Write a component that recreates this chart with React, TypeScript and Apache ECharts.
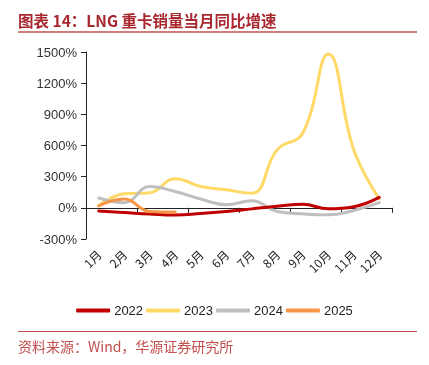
import React, { useEffect, useRef } from "react";
import * as echarts from "echarts";

const months = ["1月", "2月", "3月", "4月", "5月", "6月", "7月", "8月", "9月", "10月", "11月", "12月"];
const y2022 = [-30, -45, -60, -70, -55, -35, -10, 15, 35, -10, 10, 100];
const y2023 = [20, 135, 145, 280, 205, 173, 140, 560, 720, 1480, 560, 85];
const y2024 = [95, 50, 205, 157, 85, 30, 67, -35, -58, -67, -25, 50];
const y2025 = [20, 85, -35, -40];
const yTicks = { min: -300, max: 1500, interval: 300 };

const FONT_CJK = "'Noto Sans CJK SC', 'Liberation Sans', sans-serif";
const FONT_LAT = "'Liberation Sans', Arial, sans-serif";

export default function App() {
  const ref = useRef<HTMLDivElement>(null);
  useEffect(() => {
    if (!ref.current) return;
    const chart = echarts.init(ref.current, undefined, { renderer: "svg" });
    const mk = (name: string, data: number[], color: string, z: number) => ({
      name,
      type: "line",
      data,
      smooth: 0.45,
      showSymbol: false,
      symbol: "none",
      xAxisIndex: 0,
      z,
      lineStyle: { color, width: 3, cap: "round" },
      itemStyle: { color },
    });
    chart.setOption({
      animation: false,
      grid: { left: 86, right: 37, top: 52, bottom: 126 },
      legend: {
        data: ["2022", "2023", "2024", "2025"],
        left: "center",
        top: 299,
        icon: "roundRect",
        itemWidth: 34,
        itemHeight: 4,
        itemGap: 3,
        textStyle: { fontFamily: FONT_LAT, fontSize: 13, color: "#222", padding: [0, 0, 0, -1] },
      },
      xAxis: [
        {
          type: "category",
          data: months,
          boundaryGap: true,
          axisLine: { onZero: true, lineStyle: { color: "#222", width: 1 } },
          axisTick: { show: true, length: 5, lineStyle: { color: "#222" } },
          axisLabel: { show: false },
          splitLine: { show: false },
        },
        {
          type: "category",
          data: months,
          position: "bottom",
          boundaryGap: true,
          axisLine: { show: false, onZero: false },
          axisTick: { show: false },
          axisLabel: {
            show: true,
            rotate: 45,
            margin: 13,
            fontFamily: FONT_CJK,
            fontSize: 12,
            color: "#222",
          },
          splitLine: { show: false },
        },
      ],
      yAxis: {
        type: "value",
        min: yTicks.min,
        max: yTicks.max,
        interval: yTicks.interval,
        axisLine: { show: true, lineStyle: { color: "#222", width: 1 } },
        axisTick: { show: true, length: 5, lineStyle: { color: "#222" } },
        axisLabel: {
          formatter: (v: number) => `${v}%`,
          margin: 9,
          fontFamily: FONT_LAT,
          fontSize: 13,
          color: "#333",
        },
        splitLine: { show: false },
      },
      series: [
        mk("2022", y2022, "#C00000", 4),
        mk("2023", y2023, "#FFD966", 2),
        mk("2024", y2024, "#BFBFBF", 3),
        mk("2025", y2025, "#F79646", 5),
      ],
      graphic: [
        {
          type: "text",
          left: 18,
          top: 12,
          style: {
            text: "图表 14：LNG 重卡销量当月同比增速",
            fontFamily: FONT_CJK,
            fontSize: 15.5,
            fontWeight: "bold",
            fill: "#A8282F",
          },
        },
        {
          type: "line",
          shape: { x1: 18, y1: 32, x2: 417, y2: 32 },
          style: { stroke: "#C0504D", lineWidth: 1.5 },
        },
        {
          type: "line",
          shape: { x1: 18, y1: 331.5, x2: 417, y2: 331.5 },
          style: { stroke: "#C0504D", lineWidth: 1 },
        },
        {
          type: "text",
          left: 18,
          top: 339,
          style: {
            text: "资料来源：Wind，华源证券研究所",
            fontFamily: FONT_CJK,
            fontSize: 14,
            fill: "#C0504D",
          },
        },
      ],
    });
    return () => chart.dispose();
  }, []);
  return (
    <div
      ref={ref}
      style={{ position: "fixed", left: 0, top: 0, width: 429, height: 365 }}
    />
  );
}
